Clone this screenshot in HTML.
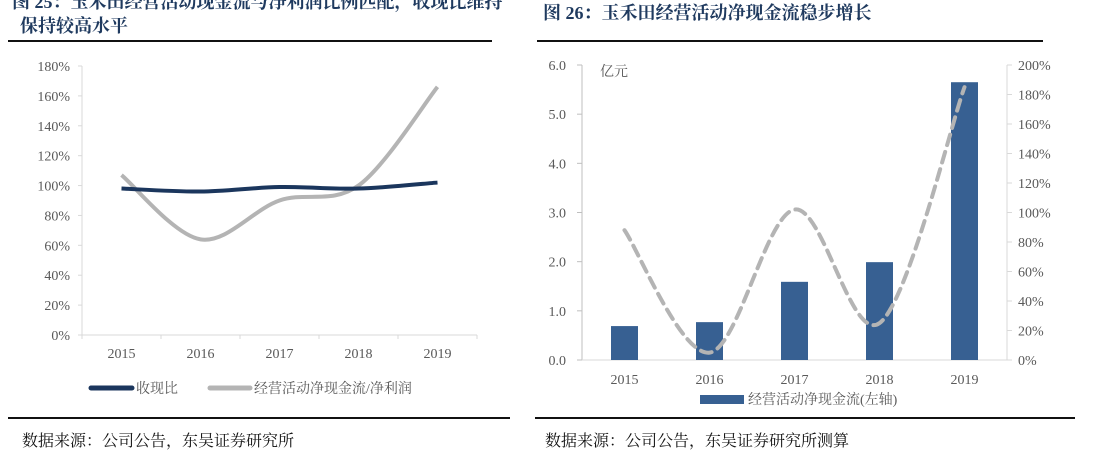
<!DOCTYPE html>
<html><head><meta charset="utf-8">
<style>
body{margin:0;width:1093px;height:450px;background:#fff;overflow:hidden;position:relative;font-family:"Liberation Serif","Noto Serif CJK SC",serif;}
.t{position:absolute;white-space:nowrap;}
.title{font-family:"Liberation Serif","Noto Serif CJK SC",serif;font-weight:bold;font-size:18px;color:#1f3a5f;}
.rule{position:absolute;height:2px;background:#111;}
.src{font-size:16px;color:#111;font-family:"Liberation Serif","Noto Serif CJK SC",serif;}
svg text{font-family:"Liberation Serif","Noto Serif CJK SC",serif;fill:#595959;font-size:14px;}
</style></head><body>
<div class="t title" style="left:12px;top:-12px;">图 25：玉禾田经营活动现金流与净利润比例匹配，收现比维持</div>
<div class="t title" style="left:20px;top:12px;">保持较高水平</div>
<div class="rule" style="left:8px;top:40px;width:484px;"></div>
<div class="t title" style="left:543px;top:-1px;">图 26：玉禾田经营活动净现金流稳步增长</div>
<div class="rule" style="left:537px;top:40px;width:506px;"></div>
<div class="rule" style="left:8px;top:417px;width:502px;"></div>
<div class="rule" style="left:535px;top:417px;width:540px;"></div>
<div class="t src" style="left:22px;top:428px;">数据来源：公司公告，东吴证券研究所</div>
<div class="t src" style="left:545px;top:428px;">数据来源：公司公告，东吴证券研究所测算</div>
<svg id="svg" width="1093" height="450" style="position:absolute;left:0;top:0"></svg>
<script>
const leftCats=['2015','2016','2017','2018','2019'];
const leftRatio=[98,96,99,98,102];
const leftCashNet=[107,64,90,100,166];
const leftTicks=[0,20,40,60,80,100,120,140,160,180];
const rightCats=['2015','2016','2017','2018','2019'];
const rightBars=[0.69,0.77,1.59,1.99,5.65];
const rightLine=[88,5,102,25,185];
const rightLeftTicks=[0,1,2,3,4,5,6];
const rightRightTicks=[0,20,40,60,80,100,120,140,160,180,200];

const svg=document.getElementById('svg');const NS='http://www.w3.org/2000/svg';
function el(tag,attrs,name,txt){const e=document.createElementNS(NS,tag);for(const k in attrs)e.setAttribute(k,attrs[k]);


if(txt!=null)e.textContent=txt;svg.appendChild(e);return e;}
function smooth(pts){let d='M'+pts[0][0]+','+pts[0][1];for(let i=0;i<pts.length-1;i++){const p0=pts[Math.max(i-1,0)],p1=pts[i],p2=pts[i+1],p3=pts[Math.min(i+2,pts.length-1)];const t=1/6;
d+=' C'+(p1[0]+(p2[0]-p0[0])*t)+','+(p1[1]+(p2[1]-p0[1])*t)+' '+(p2[0]-(p3[0]-p1[0])*t)+','+(p2[1]-(p3[1]-p1[1])*t)+' '+p2[0]+','+p2[1];}return d;}

// Left chart
const lx0=82,lx1=477,ly0=335,ly1=66;
const lX=i=>lx0+(lx1-lx0)*(i+0.5)/leftCats.length;
const lY=v=>ly0-(v/180)*(ly0-ly1);
el('line',{x1:lx0,y1:ly1,x2:lx0,y2:ly0,stroke:'#d9d9d9'},'left-y-axis');
el('line',{x1:lx0,y1:ly0,x2:lx1,y2:ly0,stroke:'#d9d9d9'},'left-x-axis');
leftTicks.forEach(v=>{el('text',{x:70,y:lY(v)+5,'text-anchor':'end'},'left-y-tick',v+'%');el('line',{x1:lx0-4,x2:lx0,y1:lY(v),y2:lY(v),stroke:'#d9d9d9'},'left-y-tickmark');});
for(let i=0;i<=leftCats.length;i++){const x=lx0+(lx1-lx0)*i/leftCats.length;el('line',{x1:x,x2:x,y1:ly0,y2:ly0+4,stroke:'#d9d9d9'},'left-x-tickmark');}
leftCats.forEach((c,i)=>el('text',{x:lX(i),y:358,'text-anchor':'middle'},'left-x-tick',c));
el('path',{d:smooth(leftCashNet.map((v,i)=>[lX(i),lY(v)])),fill:'none',stroke:'#b4b4b4','stroke-width':4},'line-cash-net-ratio');
el('path',{d:smooth(leftRatio.map((v,i)=>[lX(i),lY(v)])),fill:'none',stroke:'#1b365d','stroke-width':4},'line-cash-collection-ratio');
el('line',{x1:91,x2:132,y1:388,y2:388,stroke:'#1b365d','stroke-width':5,'stroke-linecap':'round'},'legend-ratio-swatch');
el('text',{x:136,y:393},'legend-ratio-label','收现比');
el('line',{x1:210,x2:250,y1:388,y2:388,stroke:'#b4b4b4','stroke-width':5,'stroke-linecap':'round'},'legend-cashnet-swatch');
el('text',{x:254,y:393},'legend-cashnet-label','经营活动净现金流/净利润');

// Right chart
const rx0=582,rx1=1007,ry0=360,ry1=65;
const rX=i=>rx0+(rx1-rx0)*(i+0.5)/rightCats.length;
const rYL=v=>ry0-(v/6)*(ry0-ry1);
const rYR=v=>ry0-(v/200)*(ry0-ry1);
el('line',{x1:rx0,y1:ry1,x2:rx0,y2:ry0,stroke:'#bfbfbf'},'right-left-axis');
el('line',{x1:rx1,y1:ry1,x2:rx1,y2:ry0,stroke:'#d9d9d9'},'right-right-axis');
el('line',{x1:rx0,y1:ry0,x2:rx1,y2:ry0,stroke:'#d9d9d9'},'right-x-axis');
rightLeftTicks.forEach(v=>{el('text',{x:566,y:rYL(v)+5,'text-anchor':'end'},'right-left-tick',v.toFixed(1));el('line',{x1:rx0-5,x2:rx0,y1:rYL(v),y2:rYL(v),stroke:'#bfbfbf'},'right-left-tickmark');});
rightRightTicks.forEach(v=>{el('text',{x:1018,y:rYR(v)+5},'right-right-tick',v+'%');el('line',{x1:rx1,x2:rx1+5,y1:rYR(v),y2:rYR(v),stroke:'#d9d9d9'},'right-right-tickmark');});
el('text',{x:600,y:76},'right-unit-label','亿元');
rightCats.forEach((c,i)=>el('text',{x:rX(i),y:384,'text-anchor':'middle'},'right-x-tick',c));
rightBars.forEach((v,i)=>el('rect',{x:rX(i)-13.5,y:rYL(v),width:27,height:ry0-rYL(v),fill:'#376092'},'bar-'+rightCats[i]));
el('path',{d:smooth(rightLine.map((v,i)=>[rX(i),rYR(v)])),fill:'none',stroke:'#b4b4b4','stroke-width':4,'stroke-dasharray':'11 7','stroke-linecap':'round'},'line-cash-net-ratio-right');
el('rect',{x:700,y:395,width:44,height:9,fill:'#376092'},'legend-bar-swatch');
el('text',{x:748,y:404},'legend-bar-label','经营活动净现金流(左轴)');
</script>
</body></html>
